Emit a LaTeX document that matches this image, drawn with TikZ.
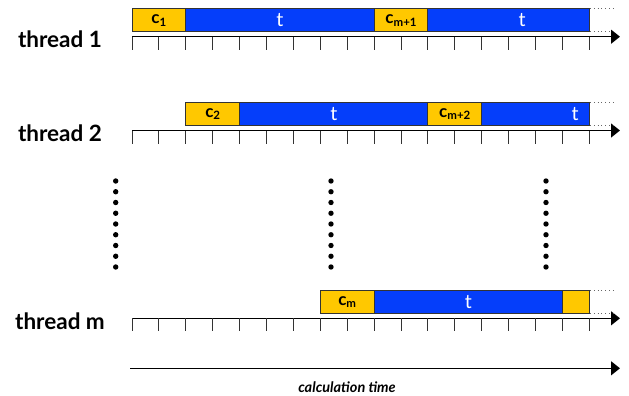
\documentclass[tikz,border=0pt]{standalone}
\usepackage{fontspec}
\setmainfont{Lato}
\usetikzlibrary{arrows.meta}

\definecolor{cyellow}{RGB}{255,200,0}
\definecolor{tblue}{RGB}{5,62,250}

\tikzset{
  axis/.style={line width=1.2pt, -{Triangle[length=9pt,width=14pt]}},
  tickmark/.style={line width=0.9pt, black!80},
  cbox/.style={draw=black!80, line width=0.9pt, fill=cyellow},
  tbox/.style={draw=black!80, line width=0.9pt, fill=tblue},
  clabel/.style={font=\fontsize{17}{17}\selectfont\bfseries},
  tlabel/.style={font=\fontsize{19.5}{19.5}\selectfont, text=white},
  threadlabel/.style={font=\fontsize{22.5}{22.5}\selectfont\bfseries, anchor=base},
  more/.style={black!60, line width=0.8pt, dash pattern=on 0.8pt off 3pt},
}
\newcommand{\csub}[1]{c\raisebox{-0.3ex}{\fontsize{11.5}{11.5}\selectfont #1}}

\begin{document}
\begin{tikzpicture}[x=1pt,y=-1pt]
\useasboundingbox (0,0) rectangle (629,396);

\def\step{26.9} % Tick spacing
\def\xo{132} % Start of the time axes

    % Time axes with ticks
    \foreach \row/\yy/\lbl in {1/36.7/thread 1, 2/130.5/thread 2, m/318.3/thread m} {
        \coordinate (s\row) at (\xo,\yy);
        \coordinate (e\row) at (620,\yy);
        \draw[axis] (s\row) -- (e\row);
        \foreach \i in {0,...,17} {
            \draw[tickmark] (\xo+\i*\step,\yy) -- (\xo+\i*\step,\yy+13); % Tick
        }
        \node[threadlabel] (name\row) at (60,\yy+11.3) {\lbl};
        \draw[more] (590,\yy-28) -- (614,\yy-28); % Goes on
        \draw[more] (590,\yy-5) -- (614,\yy-5);
    }

    % Boxes: from tick / to tick / axis / style
    \foreach \a/\b/\yy/\sty in {0/2/36.7/cbox, 2/9/36.7/tbox, 9/11/36.7/cbox, 11/17/36.7/tbox,
                                 2/4/130.5/cbox, 4/11/130.5/tbox, 11/13/130.5/cbox, 13/17/130.5/tbox,
                                 7/9/318.3/cbox, 9/16/318.3/tbox, 16/17/318.3/cbox} {
        \draw[\sty] ({\xo+\a*\step},\yy-28) rectangle ({\xo+\b*\step},\yy-5);
    }

    % Box texts
    \node[clabel] (c1) at ({\xo+1*\step},20.4) {\csub{1}};
    \node[tlabel] (t1a) at ({\xo+5.5*\step},20.2) {t};
    \node[clabel] (c1b) at ({\xo+10*\step},20.4) {\csub{m+1}};
    \node[tlabel] (t1b) at (522,20.2) {t};

    \node[clabel] (c2) at ({\xo+3*\step},114.2) {\csub{2}};
    \node[tlabel] (t2a) at ({\xo+7.5*\step},114) {t};
    \node[clabel] (c2b) at ({\xo+12*\step},114.2) {\csub{m+2}};
    \node[tlabel] (t2b) at (575,114) {t};

    \node[clabel] (cm) at ({\xo+8*\step},302) {\csub{m}};
    \node[tlabel] (tm) at ({\xo+12.5*\step},301.8) {t};

    % Vertical dots between thread 2 and thread m
    \foreach \xx in {115.7,331,546} {
        \foreach \k in {0,...,8} {
            \fill (\xx,181+\k*10.75) circle (2.7);
        }
    }

    % Calculation time
    \coordinate (ts) at (130,368.3);
    \coordinate (te) at (620,368.3);
    \draw[axis] (ts) -- (te);
    \node[anchor=base, font=\fontsize{14.5}{14.5}\selectfont\bfseries\itshape] (calc) at (347,392) {calculation time};

\end{tikzpicture}
\end{document}
